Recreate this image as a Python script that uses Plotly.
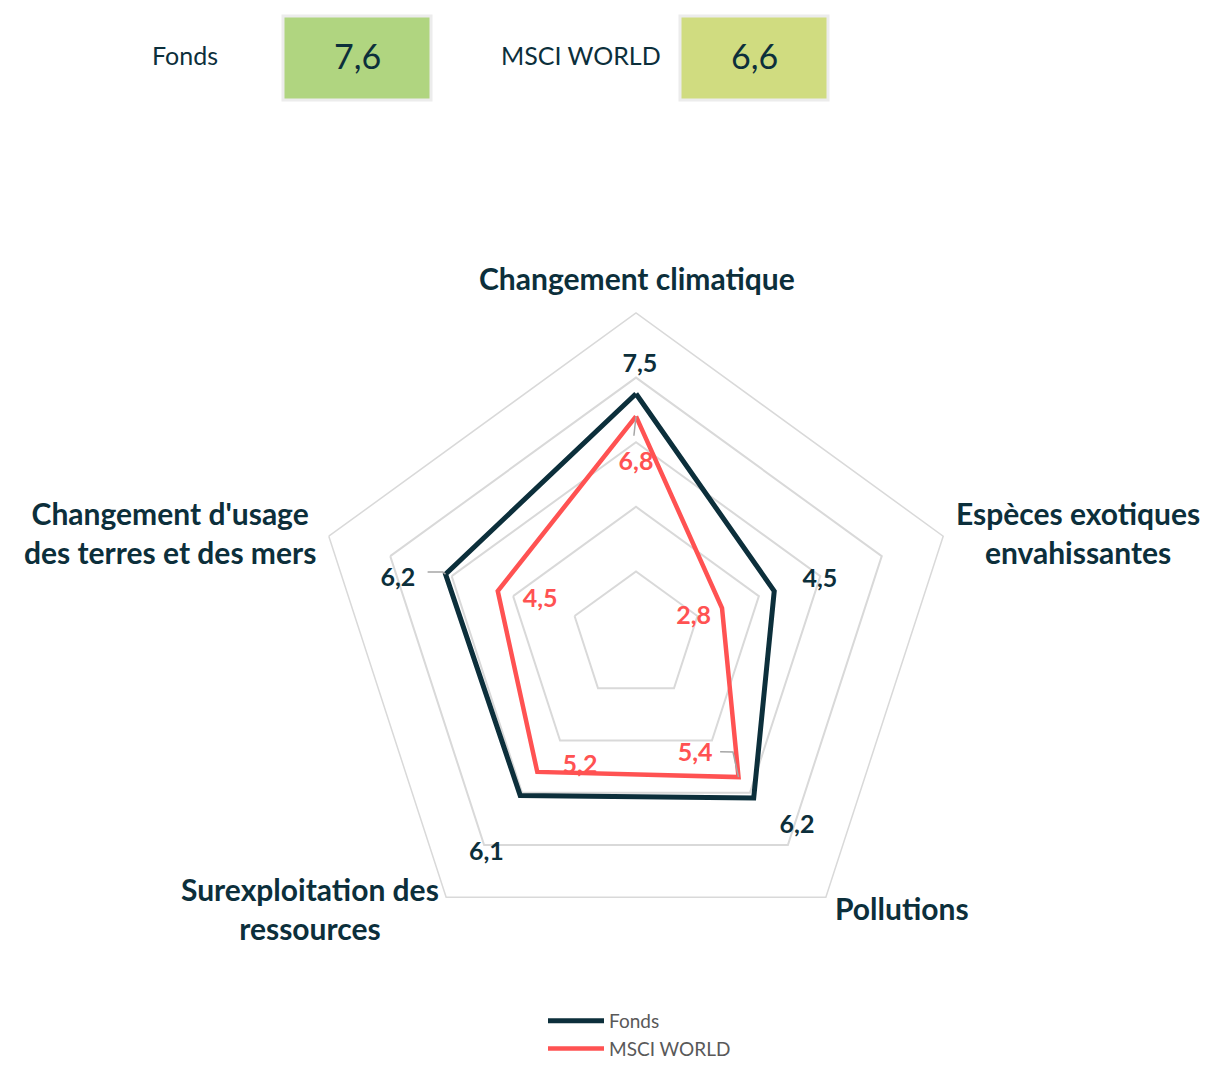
import plotly.graph_objects as go

# ---- data ----
categories = ["Changement climatique", "Espèces exotiques envahissantes", "Pollutions",
              "Surexploitation des ressources", "Changement d'usage des terres et des mers"]
category_labels = ["Changement climatique", "Espèces exotiques<br>envahissantes", "Pollutions",
                   "Surexploitation des<br>ressources", "Changement d'usage<br>des terres et des mers"]
fonds_values = [7.5, 4.5, 6.2, 6.1, 6.2]
msci_values = [6.8, 2.8, 5.4, 5.2, 4.5]
series_names = ["Fonds", "MSCI WORLD"]
header_scores = ["7,6", "6,6"]

# ---- styles / layout helpers ----
DARK = "#0c2f3b"
RED = "#ff5252"
GRID = "#d9d9d9"
PAGE_MARGIN = 8            # default body margin of the html page
W, H = 1231 - 2 * PAGE_MARGIN, 1076 - 2 * PAGE_MARGIN
CX, CY, R = 636, 636, 323  # screen pixels of radar centre / radius
TEXT_DY = 3                # vertical nudge of value labels (px)


def px(x):
    return (x - PAGE_MARGIN) / W


def py(y):
    return 1 - (y - PAGE_MARGIN) / H


def fmt(v):
    return f"{v:.1f}".replace(".", ",")


n = len(categories)
angles = [i * 360 / n for i in range(n)]

# label placement offsets (radial offset in data units, angular offset in degrees)
fonds_lab_dr = [0.95, 1.47, 1.46, 2.0, 1.4]
fonds_lab_dt = [0.8, 0.5, -4.6, -1.1, -4.0]
msci_lab_dr = [-1.38, -0.9, -1.37, -0.87, -1.3]
msci_lab_dt = [0, -2, 9, -12.4, 4]

# leader lines: (series values, index, list of (dr, dtheta) offsets from the point)
leaders = [
    (msci_values, 0, [(0, 0), (-0.6, -0.6)]),
    (fonds_values, 4, [(0, 0), (0.1, 0.3), (0.55, -0.9)]),
    (msci_values, 2, [(0, 0), (-0.72, -3.9), (-0.97, 0.0)]),
]

fig = go.Figure()


def closed(lst):
    return list(lst) + [lst[0]]


for vals, i, offs in leaders:
    fig.add_trace(go.Scatterpolar(
        r=[vals[i] + dr for dr, dt in offs], theta=[angles[i] + dt for dr, dt in offs],
        mode="lines", line=dict(color="#a6a6a6", width=1.5), showlegend=False,
        hoverinfo="skip", subplot="polar2"))

fig.add_trace(go.Scatterpolar(
    r=closed(fonds_values), theta=closed(categories), mode="lines", name=series_names[0],
    line=dict(color=DARK, width=5), hoverinfo="skip", subplot="polar"))
fig.add_trace(go.Scatterpolar(
    r=closed(msci_values), theta=closed(categories), mode="lines", name=series_names[1],
    line=dict(color=RED, width=4.5), hoverinfo="skip", subplot="polar"))

fig.add_trace(go.Scatterpolar(
    r=[v + d for v, d in zip(fonds_values, fonds_lab_dr)],
    theta=[a + d for a, d in zip(angles, fonds_lab_dt)],
    mode="text", text=[fmt(v) for v in fonds_values], showlegend=False, subplot="polar3",
    textfont=dict(family="Lato", size=25, color=DARK, weight="bold"), hoverinfo="skip"))
fig.add_trace(go.Scatterpolar(
    r=[v + d for v, d in zip(msci_values, msci_lab_dr)],
    theta=[a + d for a, d in zip(angles, msci_lab_dt)],
    mode="text", text=[fmt(v) for v in msci_values], showlegend=False, subplot="polar3",
    textfont=dict(family="Lato", size=25, color=RED, weight="bold"), hoverinfo="skip"))

domain = dict(x=[px(CX - R), px(CX + R)], y=[py(CY + R), py(CY - R)])
text_domain = dict(x=domain["x"], y=[py(CY + R + TEXT_DY), py(CY - R + TEXT_DY)])

hidden_polar = dict(
    bgcolor="rgba(0,0,0,0)",
    radialaxis=dict(range=[0, 10], visible=False, showgrid=False),
    angularaxis=dict(type="linear", direction="clockwise", rotation=90, visible=False,
                     showgrid=False, showline=False, showticklabels=False, ticks=""),
)

fig.update_layout(
    width=W, height=H,
    margin=dict(l=0, r=0, t=0, b=0, autoexpand=False),
    paper_bgcolor="white", plot_bgcolor="white",
    font=dict(family="Lato"),
    polar=dict(
        domain=domain,
        bgcolor="white",
        gridshape="linear",
        radialaxis=dict(range=[0, 10], dtick=2, tick0=0, showticklabels=False, ticks="",
                        showline=False, gridcolor=GRID, gridwidth=1.5),
        angularaxis=dict(type="category", categoryarray=categories, direction="clockwise",
                         rotation=90, showticklabels=False, ticks="",
                         showgrid=False, showline=True, linecolor=GRID, linewidth=1.5),
    ),
    polar2=dict(domain=domain, **hidden_polar),
    polar3=dict(domain=text_domain, **hidden_polar),
    legend=dict(orientation="v", x=px(543), xanchor="left", y=0, yanchor="bottom",
                font=dict(family="Lato", size=19, color="#595959"),
                itemwidth=56, tracegroupgap=0, bgcolor="rgba(0,0,0,0)"),
)

# category labels
label_pos = [(637, 278), (1078, 532), (902, 908), (310, 908), (170, 532)]
for txt, (lx, ly) in zip(category_labels, label_pos):
    fig.add_annotation(x=px(lx), y=py(ly), xref="paper", yref="paper", text=txt,
                       showarrow=False, align="center", xanchor="center", yanchor="middle",
                       font=dict(family="Lato", size=30, color=DARK, weight="bold"))

# header
boxes = [(283, 431, "#b0d580"), (680, 828, "#d0dc80")]
name_x = [185, 581]
for name, score, nx, (x0, x1, col) in zip(series_names, header_scores, name_x, boxes):
    fig.add_shape(type="rect", xref="paper", yref="paper",
                  x0=px(x0), x1=px(x1), y0=py(100), y1=py(16),
                  fillcolor=col, line=dict(color="#ececec", width=3))
    fig.add_annotation(x=px(nx), y=py(55), xref="paper", yref="paper", text=name,
                       showarrow=False, xanchor="center", yanchor="middle",
                       font=dict(family="Lato", size=25, color=DARK))
    fig.add_annotation(x=px((x0 + x1) / 2), y=py(55), xref="paper", yref="paper", text=score,
                       showarrow=False, xanchor="center", yanchor="middle",
                       font=dict(family="Lato", size=34, color=DARK))

fig.write_html("out.html")
